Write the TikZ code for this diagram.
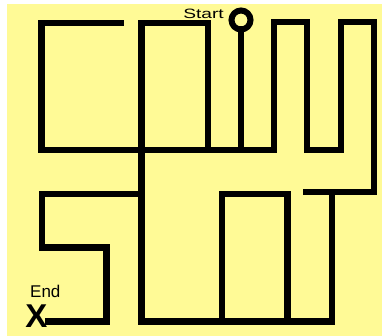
\documentclass[tikz,border=0pt]{standalone}
\usepackage{fontspec}
\setmainfont{Liberation Sans}
\definecolor{bgyellow}{RGB}{255,250,150}
\begin{document}
\begin{tikzpicture}[x=1pt,y=-1pt,
  wall/.style={line width=6.5pt,line cap=rect,line join=miter,black},
  lbl/.style={inner sep=0pt,anchor=base west,text=black}]
\useasboundingbox (0,0) rectangle (382,336);
\fill[bgyellow] (7,4) rectangle (382,336);
% coordinates
\coordinate (startc) at (241,20);
% left square and serpentine
\draw[wall] (121,23) -- (41.5,23) -- (41.5,150) -- (274,150) -- (274,22) -- (307,22)
  -- (307,150) -- (341,150) -- (341,22) -- (374,22) -- (374,192) -- (306,192);
% second box
\draw[wall] (141.5,321.5) -- (141.5,23) -- (208,23) -- (208,150);
% start line
\draw[wall] (241,29) -- (241,150);
\draw[line width=6pt] (startc) circle (9.5);
% lower left
\draw[wall] (141.5,194) -- (42,194) -- (42,247.5) -- (106.5,247.5) -- (106.5,321.5) -- (48,321.5);
% bottom
\draw[wall] (141.5,321.5) -- (332,321.5) -- (332,192);
% rectangle
\draw[wall] (222,321.5) -- (222,194) -- (287.5,194) -- (287.5,321.5);
% labels
\node[lbl,font=\fontsize{13.5}{14}\selectfont,xscale=1.42] (start) at (183,18.5) {Start};
\node[lbl,font=\fontsize{17}{18}\selectfont] (end) at (30,297) {End};
\node[inner sep=0pt,font=\bfseries\fontsize{33}{34}\selectfont] (xmark) at (36.5,316.5) {X};
\end{tikzpicture}
\end{document}
